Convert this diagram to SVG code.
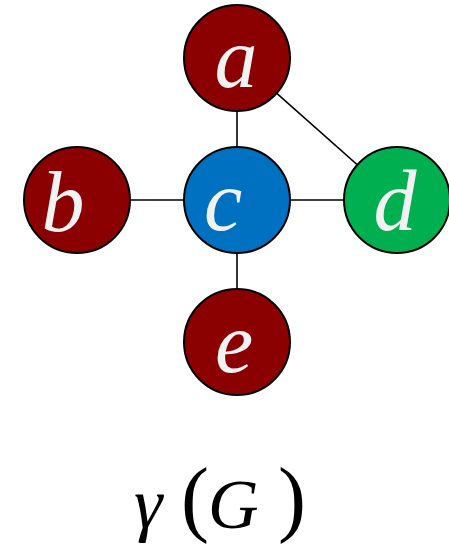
<svg xmlns="http://www.w3.org/2000/svg" width="449" height="545" viewBox="0 0 449 545">
<style>
.n{stroke:#000;stroke-width:2}
.red{fill:#8B0000}
.blue{fill:#0070C0}
.green{fill:#00B050}
.lbl{font-family:"Liberation Serif","DejaVu Serif",serif;font-style:italic;font-size:86px;fill:#F2F2F2;text-anchor:middle}
.e{stroke:#000;stroke-width:1.6;fill:none}
.t{font-family:"Liberation Serif","DejaVu Serif",serif;font-size:54px;fill:#000}
.p{font-size:84px}
</style>
<rect width="449" height="545" fill="#fff"/>
<g id="edges">
<line class="e" x1="237" y1="58" x2="237" y2="200"/>
<line class="e" x1="77" y1="200" x2="397" y2="200"/>
<line class="e" x1="237" y1="200" x2="237" y2="342"/>
<line class="e" x1="237" y1="58" x2="397" y2="200"/>
</g>
<g id="node-a"><circle class="n red" cx="237" cy="58" r="53"/><text class="lbl" x="236" y="87">a</text></g>
<g id="node-b"><circle class="n red" cx="77" cy="200" r="53"/><text class="lbl" x="63" y="231">b</text></g>
<g id="node-c"><circle class="n blue" cx="237" cy="200" r="53"/><text class="lbl" x="223" y="230">c</text></g>
<g id="node-d"><circle class="n green" cx="397" cy="200" r="53"/><text class="lbl" x="395" y="230">d</text></g>
<g id="node-e"><circle class="n red" cx="237" cy="342" r="53"/><text class="lbl" x="234" y="372">e</text></g>
<text class="t" y="528"><tspan x="134" font-style="italic" font-size="72">γ</tspan><tspan class="p" x="181" y="526">(</tspan><tspan x="208" y="528" font-style="italic" font-size="70">G</tspan><tspan class="p" x="278" y="526">)</tspan></text>
</svg>
